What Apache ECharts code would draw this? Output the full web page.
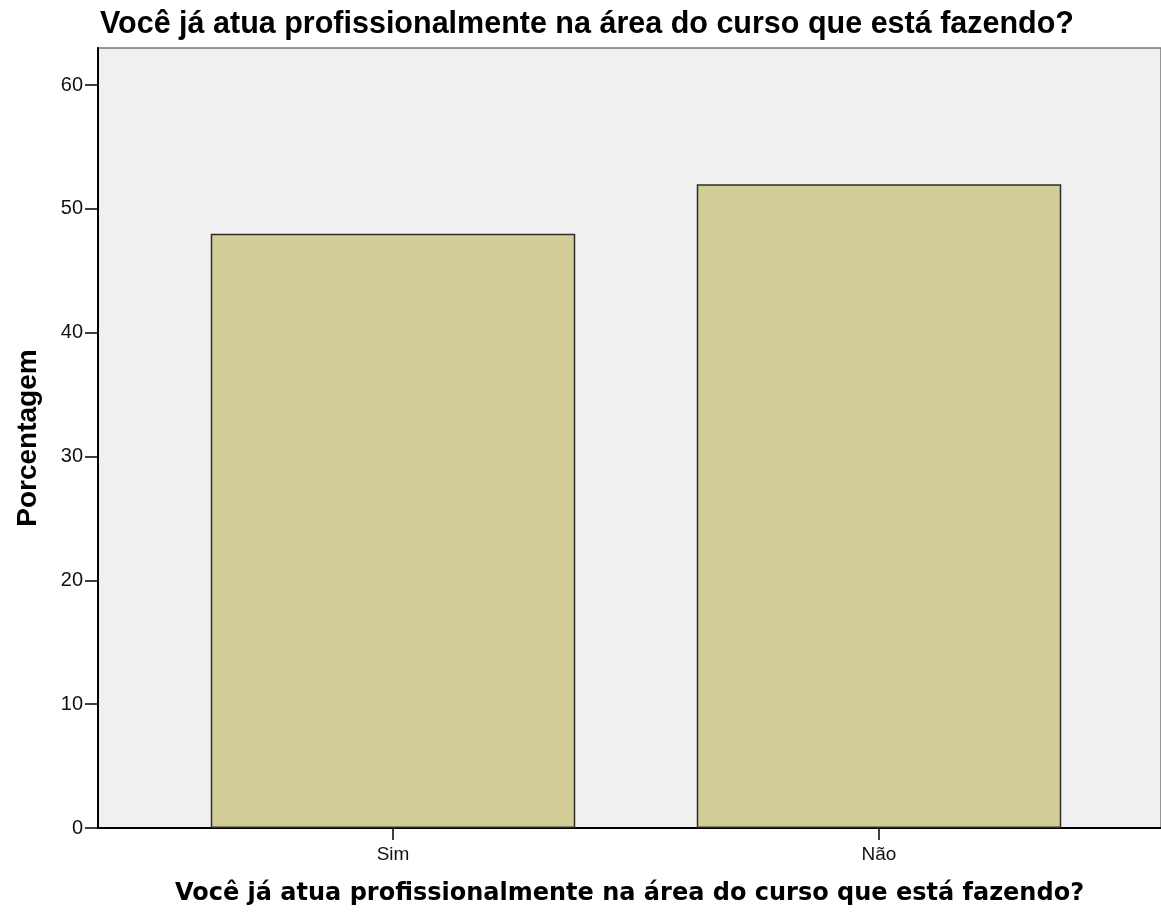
<!DOCTYPE html>
<html>
<head>
<meta charset="utf-8">
<script src="https://cdn.jsdelivr.net/npm/echarts@6/dist/echarts.min.js"></script>
<style>
  html, body { margin: 0; padding: 0; background: #fff; }
  #chart { width: 1161px; height: 917px; }
</style>
</head>
<body>
<div id="chart"></div>
<script>
var titulo = 'Você já atua profissionalmente na área do curso que está fazendo?';
var categorias = ['Sim', 'Não'];
var porcentagens = [48, 52];
var yMax = 63;

var myChart = echarts.init(document.getElementById('chart'));

var option = {
        backgroundColor: '#fff',
        animation: false,
        title: {
                text: titulo,
                left: 95,
                top: 4,
                textStyle: {
                        fontFamily: 'Liberation Sans',
                        fontWeight: 'bold',
                        fontSize: 30.5,
                        color: '#000'
                }
        },
        grid: [
                {       // fundo cinza + eixos
                        left: 98, right: -4, top: 48, bottom: 89,
                        show: true,
                        backgroundColor: '#f0f0f0',
                        borderColor: '#777',
                        borderWidth: 1.5
                },
                {       // barras
                        left: 150, width: 972, top: 48, bottom: 89
                }
        ],
        xAxis: [
                {
                        type: 'value', gridIndex: 0, min: 0, max: 1,
                        axisLine: { show: true, lineStyle: { color: '#000', width: 2 } },
                        axisTick: { show: false },
                        axisLabel: { show: false },
                        splitLine: { show: false },
                        name: titulo,
                        nameLocation: 'middle',
                        nameGap: 54,
                        nameTextStyle: {
                                fontFamily: 'DejaVu Sans',
                                fontWeight: 'bold',
                                fontSize: 24,
                                color: '#000'
                        }
                },
                {
                        type: 'category', gridIndex: 1,
                        data: categorias,
                        axisLine: { show: false },
                        axisTick: { show: true, alignWithLabel: true, length: 12, lineStyle: { color: '#000', width: 1.5 } },
                        axisLabel: { fontFamily: 'Liberation Sans', fontSize: 19, color: '#111', margin: 17 }
                }
        ],
        yAxis: [
                {
                        type: 'value', gridIndex: 0, min: 0, max: yMax, interval: 10,
                        axisLine: { show: true, lineStyle: { color: '#000', width: 2 } },
                        axisTick: { show: true, length: 13, lineStyle: { color: '#000', width: 1.5 } },
                        axisLabel: {
                                fontFamily: 'Liberation Sans', fontSize: 20, color: '#111', margin: 15,
                                showMaxLabel: false
                        },
                        splitLine: { show: false },
                        name: 'Porcentagem',
                        nameLocation: 'middle',
                        nameGap: 56,
                        nameTextStyle: {
                                fontFamily: 'Liberation Sans',
                                fontWeight: 'bold',
                                fontSize: 28,
                                color: '#000'
                        }
                },
                {
                        type: 'value', gridIndex: 1, min: 0, max: yMax, show: false
                }
        ],
        series: [
                {
                        type: 'bar',
                        xAxisIndex: 1,
                        yAxisIndex: 1,
                        data: porcentagens,
                        barWidth: '75%',
                        itemStyle: {
                                color: '#d3ce98',
                                borderColor: '#2e2e2e',
                                borderWidth: 1.5
                        }
                }
        ]
};
myChart.setOption(option);
</script>
</body>
</html>
